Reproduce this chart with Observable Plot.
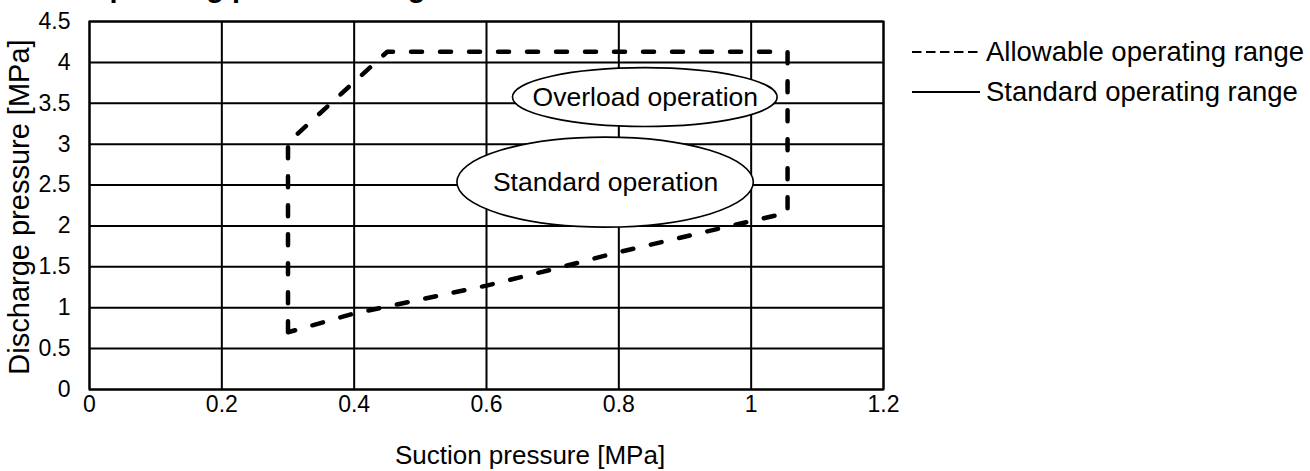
<!DOCTYPE html>
<html>
<head>
<meta charset="utf-8">
<script src="https://cdn.jsdelivr.net/npm/d3@7"></script>
<script src="https://cdn.jsdelivr.net/npm/@observablehq/plot@0.6"></script>
<style>
  body { margin: 0; background: #fff; }
  #wrap { position: relative; width: 1310px; height: 471px; overflow: hidden; background: #fff;
          font-family: "Liberation Sans", Arial, sans-serif; color: #000; }
  #chart { position: absolute; left: 0; top: 0; }
  .title { position: absolute; left: 87px; top: -27px; font-size: 29px; font-weight: bold; line-height: 29px; white-space: nowrap; }
  .xtitle { position: absolute; left: 330px; width: 400px; top: 440px; text-align: center; font-size: 26px; line-height: 30px; white-space: nowrap; }
  .ytitle { position: absolute; left: 19px; top: 207px; width: 420px; margin-left: -210px; margin-top: -16px; text-align: center;
            font-size: 29px; line-height: 32px; white-space: nowrap; transform: rotate(-90deg); }
  .legend { position: absolute; left: 910px; top: 32px; font-size: 27.5px; }
  .legend .row { display: flex; align-items: center; height: 40px; white-space: nowrap; }
  .legend svg { margin-right: 4px; }
</style>
</head>
<body>
<div id="wrap">
  <div id="chart"></div>
  <div class="title" id="title"></div>
  <div class="xtitle" id="xtitle"></div>
  <div class="ytitle" id="ytitle"></div>
  <div class="legend" id="legend"></div>
</div>
<script>
// ---- data ----
const titleText = "Operating pressure range";
const xTitle = "Suction pressure [MPa]";
const yTitle = "Discharge pressure [MPa]";
const xTicks = [0, 0.2, 0.4, 0.6, 0.8, 1, 1.2];
const yTicks = [0, 0.5, 1, 1.5, 2, 2.5, 3, 3.5, 4, 4.5];

// allowable operating range (dashed outline)
const allowX = [0.3, 0.3, 0.45, 1.055, 1.055, 1.0, 0.8, 0.7, 0.6, 0.4, 0.3];
const allowY = [0.7, 3.02, 4.13, 4.13, 2.16, 2.06, 1.68, 1.47, 1.27, 0.93, 0.7];

// annotation bubbles
const bubbleText = ["Overload operation", "Standard operation"];
const bubbleX = [0.84, 0.78];
const bubbleY = [3.57, 2.53];
const bubbleRX = [0.2, 0.224];
const bubbleRY = [0.36, 0.55];

const legendText = ["Allowable operating range", "Standard operating range"];
const legendDash = ["9.5,4.5", null];

// ---- build ----
const allowPts = allowX.map((x, i) => ({x, y: allowY[i]}));
const bubbles = bubbleText.map((t, i) => ({t, x: bubbleX[i], y: bubbleY[i], rx: bubbleRX[i], ry: bubbleRY[i]}));

function bubbleMark(index, scales) {
  const sx = scales.x, sy = scales.y;
  const g = d3.create("svg:g");
  for (const b of bubbles) {
    g.append("ellipse")
      .attr("cx", sx(b.x)).attr("cy", sy(b.y))
      .attr("rx", Math.abs(sx(b.x + b.rx) - sx(b.x)))
      .attr("ry", Math.abs(sy(b.y + b.ry) - sy(b.y)))
      .attr("fill", "#fff").attr("stroke", "#000").attr("stroke-width", 1.6);
  }
  return g.node();
}

const chart = Plot.plot({
  width: 900,
  height: 471,
  marginLeft: 89,
  marginRight: 17,
  marginTop: 21,
  marginBottom: 82,
  style: {fontFamily: "'Liberation Sans', Arial, sans-serif", background: "#fff", color: "#000"},
  x: {domain: [0, 1.2]},
  y: {domain: [0, 4.5]},
  marks: [
    Plot.gridX(xTicks, {stroke: "#000", strokeOpacity: 1, strokeWidth: 2}),
    Plot.gridY(yTicks, {stroke: "#000", strokeOpacity: 1, strokeWidth: 2}),
    Plot.frame({stroke: "#000", strokeWidth: 2}),
    bubbleMark,
    Plot.line(allowPts, {x: "x", y: "y", stroke: "#000", strokeWidth: 4.5, strokeDasharray: "11,18", strokeLinejoin: "miter"}),
    Plot.text(bubbles, {x: "x", y: "y", text: "t", fontSize: 26.5, fill: "#000"}),
    Plot.axisX(xTicks, {tickSize: 0, tickPadding: 6, fontSize: 23, fontFamily: "'Liberation Sans Narrow', 'Liberation Sans', sans-serif", label: null, tickFormat: d => String(d), fill: "#000"}),
    Plot.axisY(yTicks, {tickSize: 0, tickPadding: 19, fontSize: 23, label: null, tickFormat: d => String(d), fill: "#000"})
  ]
});
document.getElementById("chart").appendChild(chart);

document.getElementById("title").textContent = titleText;
document.getElementById("xtitle").textContent = xTitle;
document.getElementById("ytitle").textContent = yTitle;

const leg = d3.select("#legend");
legendText.forEach((t, i) => {
  const row = leg.append("div").attr("class", "row");
  const s = row.append("svg").attr("width", 72).attr("height", 10);
  const ln = s.append("line").attr("x1", 2).attr("x2", 70).attr("y1", 5).attr("y2", 5)
    .attr("stroke", "#000").attr("stroke-width", 2);
  if (legendDash[i]) ln.attr("stroke-dasharray", legendDash[i]);
  row.append("span").text(t);
});
</script>
</body>
</html>
